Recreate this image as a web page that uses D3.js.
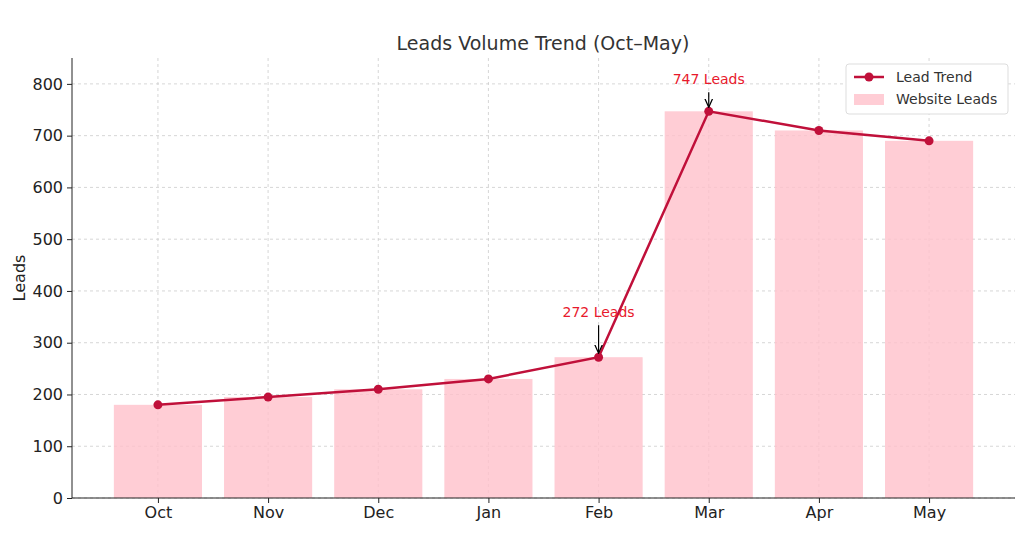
<!DOCTYPE html>
<html><head><meta charset="utf-8">
<script src="https://cdn.jsdelivr.net/npm/d3@7"></script>
<style>body{margin:0;background:#fff;font-family:"DejaVu Sans",sans-serif}</style>
</head><body><svg id="c" width="1024" height="536"></svg>
<script>
const categories=["Oct","Nov","Dec","Jan","Feb","Mar","Apr","May"];
const websiteLeads=[180,195,210,230,272,747,710,690];
const leadTrend=[180,195,210,230,272,747,710,690];
const yTicks=[0,100,200,300,400,500,600,700,800];
const annotations=[{i:4,label:"272 Leads"},{i:5,label:"747 Leads"}];

const svg=d3.select("#c");
const L=72,R=1015,T=58,B=498;
const x=d3.scaleLinear().domain([-0.78,7.78]).range([L,R]);
const y=d3.scaleLinear().domain([0,850]).range([B,T]);
const g=svg.append("g");
// grid
g.selectAll(".hg").data(yTicks).join("line").attr("x1",L).attr("x2",R).attr("y1",d=>y(d)).attr("y2",d=>y(d)).attr("stroke","#ccc").attr("stroke-dasharray","3,3").attr("stroke-width",0.8);
g.selectAll(".vg").data(categories).join("line").attr("x1",(d,i)=>x(i)).attr("x2",(d,i)=>x(i)).attr("y1",T).attr("y2",B).attr("stroke","#ccc").attr("stroke-dasharray","3,3").attr("stroke-width",0.8);
// bars
const bw=x(0.8)-x(0);
g.selectAll(".bar").data(websiteLeads).join("rect").attr("x",(d,i)=>x(i)-bw/2).attr("width",bw).attr("y",d=>y(d)).attr("height",d=>B-y(d)).attr("fill","#ffc0cb").attr("opacity",0.8);
// line
const line=d3.line().x((d,i)=>x(i)).y(d=>y(d));
g.append("path").datum(leadTrend).attr("d",line).attr("fill","none").attr("stroke","#c0103a").attr("stroke-width",2.5);
g.selectAll(".pt").data(leadTrend).join("circle").attr("cx",(d,i)=>x(i)).attr("cy",d=>y(d)).attr("r",4.5).attr("fill","#c0103a");
// axes
const ya=svg.append("g").attr("transform",`translate(${L},0)`).call(d3.axisLeft(y).tickValues(yTicks).tickSize(5).tickPadding(4));
const xa=svg.append("g").attr("transform",`translate(0,${B})`).call(d3.axisBottom(x).tickValues(d3.range(8)).tickFormat(i=>categories[i]).tickSize(5).tickPadding(4));
[ya,xa].forEach(a=>{a.selectAll("text").attr("font-size",16).attr("fill","#222").attr("font-family","DejaVu Sans");a.select(".domain").attr("stroke","#222");a.selectAll(".tick line").attr("stroke","#222");});
ya.select(".domain").attr("d",`M0,${T}V${B}`);
xa.select(".domain").attr("d",`M${L},0H${R}`);
// annotations
svg.append("defs").append("marker").attr("id","ah").attr("viewBox","0 0 10 10").attr("refX",9).attr("refY",5).attr("markerWidth",8).attr("markerHeight",8).attr("orient","auto").append("path").attr("d","M0,1L9,5L0,9").attr("fill","none").attr("stroke","#000").attr("stroke-width",1.3);
annotations.forEach(a=>{
  const px=x(a.i),py=y(leadTrend[a.i]);
  const ty=a.i===4?py-40:py-27;
  svg.append("line").attr("x1",px).attr("x2",px).attr("y1",ty+8).attr("y2",py-4).attr("stroke","#000").attr("stroke-width",1.2).attr("marker-end","url(#ah)");
  svg.append("text").attr("x",px).attr("y",ty).attr("text-anchor","middle").attr("font-size",14).attr("fill","#e8192c").text(a.label);
});
// title & label
svg.append("text").attr("x",543).attr("y",50).attr("text-anchor","middle").attr("font-size",19).attr("fill","#333").text("Leads Volume Trend (Oct–May)");
svg.append("text").attr("transform","translate(25,278) rotate(-90)").attr("text-anchor","middle").attr("font-size",16).attr("fill","#222").text("Leads");
// legend
const lg=svg.append("g").attr("transform","translate(846,64)");
lg.append("rect").attr("width",162).attr("height",50).attr("fill","#fff").attr("stroke","#ddd").attr("rx",3);
lg.append("line").attr("x1",8).attr("x2",38).attr("y1",13).attr("y2",13).attr("stroke","#c0103a").attr("stroke-width",2.5);
lg.append("circle").attr("cx",23).attr("cy",13).attr("r",4.5).attr("fill","#c0103a");
lg.append("rect").attr("x",8).attr("y",30).attr("width",30).attr("height",11).attr("fill","#ffc0cb").attr("opacity",0.8);
lg.append("text").attr("x",50).attr("y",18).attr("font-size",14).attr("fill","#333").text("Lead Trend");
lg.append("text").attr("x",50).attr("y",40).attr("font-size",14).attr("fill","#333").text("Website Leads");
</script></body></html>
